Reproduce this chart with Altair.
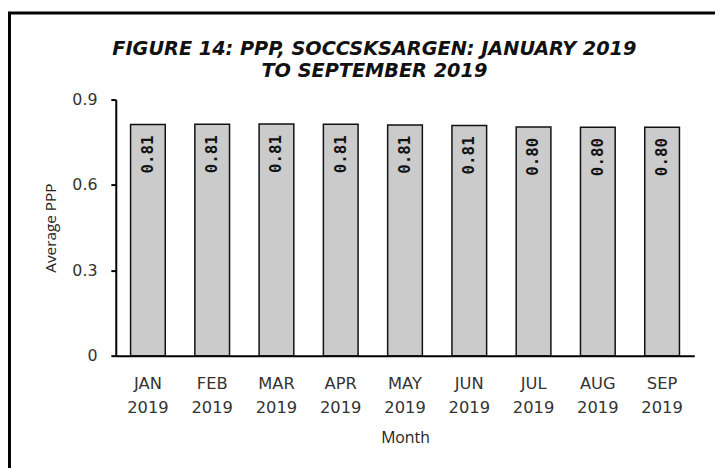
import altair as alt
import pandas as pd

months = ["JAN 2019", "FEB 2019", "MAR 2019", "APR 2019", "MAY 2019",
          "JUN 2019", "JUL 2019", "AUG 2019", "SEP 2019"]
values = [0.812, 0.813, 0.814, 0.813, 0.811, 0.809, 0.804, 0.803, 0.803]
labels = ["0.81", "0.81", "0.81", "0.81", "0.81", "0.81", "0.80", "0.80", "0.80"]
y_ticks = [0, 0.3, 0.6, 0.9]
title_lines = ["FIGURE 14: PPP, SOCCSKSARGEN: JANUARY 2019", "TO SEPTEMBER 2019"]

df = pd.DataFrame({"month": months, "value": values, "label": labels})

x_enc = alt.X("month:N", sort=months, title="Month",
              scale=alt.Scale(paddingInner=0.46, paddingOuter=0.23),
              axis=alt.Axis(labelAngle=0, labelExpr="split(datum.label, ' ')",
                            labelFont="DejaVu Sans", labelFontSize=16.5, labelColor="#333333",
                            labelLineHeight=24, labelPadding=20, ticks=False,
                            domainColor="black", domainWidth=2,
                            titleFont="Open Sans", titleFontSize=16, titleFontWeight="normal",
                            titleColor="#222222", titlePadding=14))
y_enc = alt.Y("value:Q", title="Average PPP",
              scale=alt.Scale(domain=[0, 0.9], nice=False),
              axis=alt.Axis(values=y_ticks, format=".1~f", grid=False,
                            labelFont="DejaVu Sans", labelFontSize=16, labelColor="#333333",
                            labelPadding=14, tickSize=5, tickColor="black", tickWidth=2,
                            domainColor="black", domainWidth=2,
                            titleFont="Open Sans", titleFontSize=15.5, titleFontWeight="normal",
                            titleColor="#222222", titlePadding=14))

base = alt.Chart(df)

bars = base.mark_bar(fill="#cbcbcb", stroke="#111111", strokeWidth=1.5).encode(x=x_enc, y=y_enc)

texts = base.mark_text(angle=270, align="right", baseline="middle", dx=-11,
                       font="DejaVu Sans Mono", fontWeight="bold", fontSize=16,
                       color="#111111").encode(
    x=alt.X("month:N", sort=months), y="value:Q", text="label:N")

border = alt.Chart(pd.DataFrame({"a": [0]})).mark_rect(
    fill="transparent", stroke="black", strokeWidth=3).encode(
    x=alt.value(-107.5), x2=alt.value(700), y=alt.value(-87.5), y2=alt.value(500))

chart = alt.layer(bars, texts, border).properties(
    width=585, height=259,
    autosize=alt.AutoSizeParams(type="none"),
    padding={"left": 109, "top": 90, "right": 21, "bottom": 111},
    title=alt.TitleParams(text=title_lines, font="DejaVu Sans", fontSize=19.5,
                          fontStyle="italic", fontWeight="bold", color="#111111",
                          lineHeight=23, anchor="middle", frame="group", dx=-31, offset=-71),
).configure_view(stroke=None)

chart.save("out.html", embed_options={"renderer": "svg", "actions": False})
